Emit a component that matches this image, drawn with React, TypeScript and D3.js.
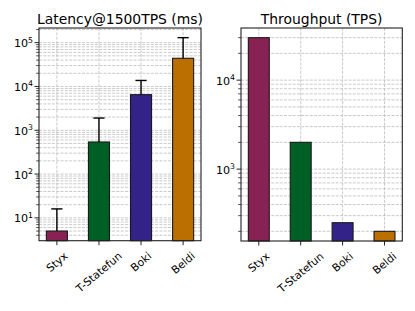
import React from 'react';
import * as d3 from 'd3';

const categories = ['Styx', 'T-Statefun', 'Boki', 'Beldi'];
const barColors = ['#882255', '#005F25', '#332288', '#BB6F00'];
const latency = [5, 540, 6500, 44000];
const latencyErrUp = [11, 1360, 7200, 86000];
const throughput = [30000, 2000, 250, 200];
const titles = ['Latency@1500TPS (ms)', 'Throughput (TPS)'];

const W = 415;
const H = 311;
const FONT = "'DejaVu Sans', sans-serif";
const TICK_FS = 11.1;
const XLABEL_FS = 10.8;
const TITLE_FS = 13.9;
const ROT = 40;

let ctx: CanvasRenderingContext2D | null = null;
function measure(text: string, size: number): number {
  if (!ctx) ctx = document.createElement('canvas').getContext('2d');
  if (!ctx) return text.length * size * 0.6;
  ctx.font = `${size}px 'DejaVu Sans'`;
  return ctx.measureText(text).width;
}

function logDomain(min: number, max: number): [number, number] {
  const a = Math.log10(min);
  const b = Math.log10(max);
  const m = (b - a) * 0.05;
  return [Math.pow(10, a - m), Math.pow(10, b + m)];
}

interface PanelProps {
  left: number;
  right: number;
  top: number;
  bottom: number;
  title: string;
  values: number[];
  errs?: number[];
}

function Panel({ left, right, top, bottom, title, values, errs }: PanelProps) {
  const maxV = d3.max(values.map((v, i) => v + (errs ? errs[i] : 0))) as number;
  const minV = d3.min(values) as number;
  const dom = logDomain(minV, maxV);
  const x = d3.scaleLinear().domain([-0.425, categories.length - 1 + 0.425]).range([left, right]);
  const y = d3.scaleLog().domain(dom).range([bottom, top]);
  const bw = x(0.5) - x(0);

  const majors: number[] = [];
  const minors: number[] = [];
  for (let k = Math.floor(Math.log10(dom[0])); k <= Math.ceil(Math.log10(dom[1])); k++) {
    const p = Math.pow(10, k);
    if (p >= dom[0] && p <= dom[1]) majors.push(k);
    for (let m = 2; m <= 9; m++) {
      const v = m * p;
      if (v >= dom[0] && v <= dom[1]) minors.push(v);
    }
  }

  const gridStyle = { stroke: '#bdbdbd', strokeWidth: 0.8, strokeDasharray: '3,1.3' };
  const rs = Math.sin((ROT * Math.PI) / 180);
  const rc = Math.cos((ROT * Math.PI) / 180);
  const labelTop = bottom + 8.8;
  const boxH = 1.164 * XLABEL_FS;

  return (
    <g>
      {/* grid */}
      {minors.map((v, i) => (
        <line key={'gm' + i} x1={left} x2={right} y1={y(v)} y2={y(v)} {...gridStyle} />
      ))}
      {majors.map((k) => (
        <line key={'gM' + k} x1={left} x2={right} y1={y(Math.pow(10, k))} y2={y(Math.pow(10, k))} {...gridStyle} />
      ))}
      {categories.map((c, i) => (
        <line key={'gx' + c} x1={x(i)} x2={x(i)} y1={top} y2={bottom} {...gridStyle} />
      ))}
      {/* bars */}
      {values.map((v, i) => (
        <rect
          key={'b' + i}
          x={x(i) - bw / 2}
          width={bw}
          y={y(v)}
          height={bottom - y(v)}
          fill={barColors[i]}
          stroke="#1a1a1a"
          strokeWidth={1.1}
        />
      ))}
      {/* error bars */}
      {errs &&
        values.map((v, i) => {
          const yt = y(v + errs[i]);
          return (
            <g key={'e' + i} stroke="#000" strokeWidth={1.4}>
              <line x1={x(i)} x2={x(i)} y1={y(v)} y2={yt} />
              <line x1={x(i) - 5.6} x2={x(i) + 5.6} y1={yt} y2={yt} />
            </g>
          );
        })}
      {/* frame */}
      <rect x={left} y={top} width={right - left} height={bottom - top} fill="none" stroke="#222" strokeWidth={1.1} />
      {/* y ticks */}
      {minors.map((v, i) => (
        <line key={'tm' + i} x1={left - 2.8} x2={left} y1={y(v)} y2={y(v)} stroke="#222" strokeWidth={0.8} />
      ))}
      {majors.map((k) => {
        const yy = y(Math.pow(10, k));
        return (
          <g key={'tM' + k}>
            <line x1={left - 4.5} x2={left} y1={yy} y2={yy} stroke="#222" strokeWidth={1} />
            <text x={left - 6} y={yy + 4.6} textAnchor="end" fontFamily={FONT} fontSize={TICK_FS} fill="#000">
              10
              <tspan dy={-4.6} fontSize={TICK_FS * 0.7}>
                {String(k)}
              </tspan>
            </text>
          </g>
        );
      })}
      {/* x ticks */}
      {categories.map((c, i) => {
        const L = measure(c, XLABEL_FS);
        const cy = labelTop + (L * rs + boxH * rc) / 2;
        return (
          <g key={'tx' + c}>
            <line x1={x(i)} x2={x(i)} y1={bottom} y2={bottom + 4.5} stroke="#222" strokeWidth={1} />
            <text
              transform={`translate(${x(i)},${cy}) rotate(${-ROT})`}
              x={0}
              y={0.346 * XLABEL_FS}
              textAnchor="middle"
              fontFamily={FONT}
              fontSize={XLABEL_FS}
              fill="#000"
            >
              {c}
            </text>
          </g>
        );
      })}
      {/* title */}
      <text x={(left + right) / 2} y={23.5} textAnchor="middle" fontFamily={FONT} fontSize={TITLE_FS} fill="#000">
        {title}
      </text>
    </g>
  );
}

export default function App() {
  return (
    <svg
      width={W}
      height={H}
      viewBox={`0 0 ${W} ${H}`}
      style={{ position: 'absolute', left: 0, top: 0, background: '#fff' }}
    >
      <rect x={0} y={0} width={W} height={H} fill="#fff" />
      <Panel left={39} right={201} top={28} bottom={240.7} title={titles[0]} values={latency} errs={latencyErrUp} />
      <Panel left={241} right={402.3} top={28} bottom={241} title={titles[1]} values={throughput} />
    </svg>
  );
}
